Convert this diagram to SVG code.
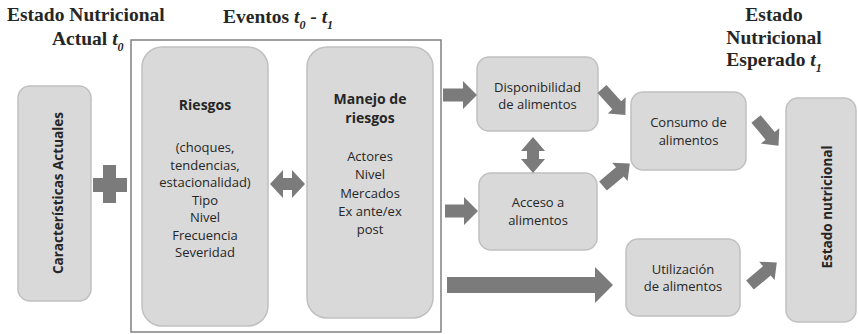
<svg xmlns="http://www.w3.org/2000/svg" xmlns:xlink="http://www.w3.org/1999/xlink" width="858" height="334" viewBox="0 0 858 334">
<style>
.box{fill:#d9d9d9;stroke:#c0c0c0;stroke-width:1.5}
.frame{fill:none;stroke:#808080;stroke-width:1.5}
.arr{fill:#7b7b7b}
.t{font-family:"Open Sans","DejaVu Sans",sans-serif;font-size:13px;fill:#262626;text-anchor:middle}
.b{font-weight:bold;font-size:14px}
.rb{font-weight:bold;font-size:13.5px}
.title{font-family:"Liberation Serif","Times New Roman",serif;font-weight:bold;font-size:19.5px;fill:#262626}
.it{font-style:italic}
.sub{font-style:italic;font-size:12px}
</style>
<defs>
<path id="diag" d="M0,-6 H22 V-12 L35,0 L22,12 V6 H0 Z"/>
</defs>

<g id="titles">
<text class="title" x="7" y="21">Estado Nutricional</text>
<text class="title" x="52" y="45">Actual <tspan class="it">t</tspan><tspan class="sub" dy="6">0</tspan></text>
<text class="title" x="223" y="23">Eventos <tspan class="it">t</tspan><tspan class="sub" dy="6">0</tspan><tspan dy="-6"> - </tspan><tspan class="it">t</tspan><tspan class="sub" dy="6">1</tspan></text>
<text class="title" x="774" y="21" text-anchor="middle">Estado</text>
<text class="title" x="774" y="44" text-anchor="middle">Nutricional</text>
<text class="title" x="774" y="66" text-anchor="middle">Esperado <tspan class="it">t</tspan><tspan class="sub" dy="6">1</tspan></text>
</g>

<g id="eventos-frame">
<rect class="frame" x="131" y="40" width="310" height="292"/>
</g>

<g id="caracteristicas">
<rect class="box" x="18" y="86" width="73" height="215" rx="12"/>
<text class="t rb" transform="translate(63,193) rotate(-90)">Características Actuales</text>
</g>

<g id="riesgos">
<rect class="box" x="142" y="47" width="126" height="279" rx="20"/>
<text class="t b" x="205" y="110">Riesgos</text>
<text class="t" x="205" y="152">(choques,</text>
<text class="t" x="205" y="169.5">tendencias,</text>
<text class="t" x="205" y="187">estacionalidad)</text>
<text class="t" x="205" y="204.5">Tipo</text>
<text class="t" x="205" y="222">Nivel</text>
<text class="t" x="205" y="239.5">Frecuencia</text>
<text class="t" x="205" y="257">Severidad</text>
</g>

<g id="manejo">
<rect class="box" x="307" y="47" width="126" height="271" rx="20"/>
<text class="t b" x="370" y="104">Manejo de</text>
<text class="t b" x="370" y="123">riesgos</text>
<text class="t" x="370" y="161">Actores</text>
<text class="t" x="370" y="179">Nivel</text>
<text class="t" x="370" y="197.5">Mercados</text>
<text class="t" x="370" y="216">Ex ante/ex</text>
<text class="t" x="370" y="234">post</text>
</g>

<g id="disponibilidad">
<rect class="box" x="477" y="57" width="121" height="74" rx="12"/>
<text class="t" x="537.5" y="92">Disponibilidad</text>
<text class="t" x="537.5" y="109">de alimentos</text>
</g>

<g id="acceso">
<rect class="box" x="479" y="173" width="118" height="77" rx="12"/>
<text class="t" x="538" y="207">Acceso a</text>
<text class="t" x="538" y="225">alimentos</text>
</g>

<g id="consumo">
<rect class="box" x="631" y="92" width="115" height="78" rx="12"/>
<text class="t" x="688.5" y="127">Consumo de</text>
<text class="t" x="688.5" y="145">alimentos</text>
</g>

<g id="utilizacion">
<rect class="box" x="626" y="239" width="114" height="77" rx="12"/>
<text class="t" x="683" y="274">Utilización</text>
<text class="t" x="683" y="291">de alimentos</text>
</g>

<g id="estado-nutricional">
<rect class="box" x="786" y="98" width="70" height="224" rx="12"/>
<text class="t rb" transform="translate(832,207) rotate(-90)">Estado nutricional</text>
</g>

<g id="connectors" class="arr">
<rect x="103" y="165" width="13" height="38"/>
<rect x="93" y="178" width="34" height="14"/>
<path d="M270,184 L283,170 V178 H292 V170 L305,184 L292,198 V190 H283 V198 Z"/>
<path d="M443,88.5 H463 V81 L477,95 L463,109 V101.5 H443 Z"/>
<path d="M445,204.5 H464 V197 L478,211 L464,225 V217.5 H445 Z"/>
<path d="M447,277 H595 V267 L613,285 L595,303 V293 H447 Z"/>
<path d="M533,137 L545,151 H539 V159 H545 L533,173 L521,159 H527 V151 H521 Z"/>
<use xlink:href="#diag" transform="translate(602,89) rotate(48)"/>
<use xlink:href="#diag" transform="translate(603,186) rotate(-40)"/>
<use xlink:href="#diag" transform="translate(756,119) rotate(50)"/>
<use xlink:href="#diag" transform="translate(750,285) rotate(-40)"/>
</g>
</svg>
